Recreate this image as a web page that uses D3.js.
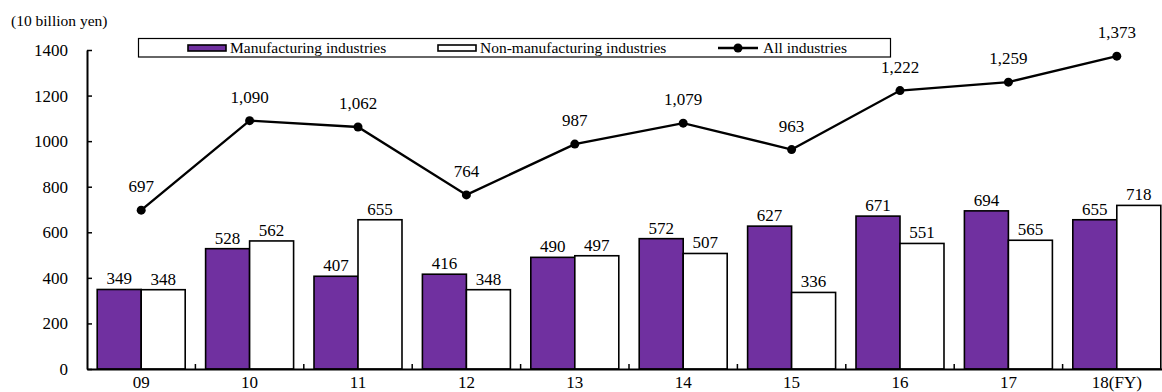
<!DOCTYPE html>
<html>
<head>
<meta charset="utf-8">
<script src="https://cdn.jsdelivr.net/npm/d3@7"></script>
<style>
  html, body { margin: 0; padding: 0; background: #fff; }
  svg { display: block; }
</style>
</head>
<body>
<svg id="chart" width="1162" height="392"></svg>
<script>
// Fiscal years on the category axis
const categories = ["09", "10", "11", "12", "13", "14", "15", "16", "17", "18(FY)"];
// Ordinary profits by sector (10 billion yen)
const manufacturing = [349, 528, 407, 416, 490, 572, 627, 671, 694, 655];
const nonManufacturing = [348, 562, 655, 348, 497, 507, 336, 551, 565, 718];
const allIndustries = [697, 1090, 1062, 764, 987, 1079, 963, 1222, 1259, 1373];
const yTicks = [0, 200, 400, 600, 800, 1000, 1200, 1400];
const seriesNames = ["Manufacturing industries", "Non-manufacturing industries", "All industries"];
const unitLabel = "(10 billion yen)";

const PURPLE = "#7030A0";
const NUM_FONT = 17;
const LEGEND_FONT = 15.5;
const SERIF = "Liberation Serif";

const svg = d3.select("#chart");

const plotLeft = 87, plotRight = 1171, plotTop = 50, plotBottom = 369;

const x = d3.scaleBand().domain(categories).range([plotLeft, plotRight]).paddingInner(0).paddingOuter(0);
const sub = d3.scaleBand().domain(["m", "n"]).range([0, x.bandwidth()]).paddingInner(0).paddingOuter(0.232);
const y = d3.scaleLinear().domain([0, 1400]).range([plotBottom, plotTop]);

const fmt = d3.format(",");

// Unit label
svg.append("text")
  .attr("x", 11).attr("y", 26)
  .style("font-size", "15.5px")
  .text(unitLabel);

// Bars
const groups = svg.append("g").selectAll("g")
  .data(categories)
  .join("g")
  .attr("transform", d => `translate(${x(d)},0)`);

groups.append("rect")
  .attr("x", sub("m"))
  .attr("y", (d, i) => y(manufacturing[i]))
  .attr("width", sub.bandwidth())
  .attr("height", (d, i) => y(0) - y(manufacturing[i]))
  .attr("fill", PURPLE)
  .attr("stroke", "#000")
  .attr("stroke-width", 1.6);

groups.append("rect")
  .attr("x", sub("n"))
  .attr("y", (d, i) => y(nonManufacturing[i]))
  .attr("width", sub.bandwidth())
  .attr("height", (d, i) => y(0) - y(nonManufacturing[i]))
  .attr("fill", "#fff")
  .attr("stroke", "#000")
  .attr("stroke-width", 1.6);

groups.append("text")
  .attr("x", sub("m") + sub.bandwidth() / 2)
  .attr("y", (d, i) => y(manufacturing[i]) - 5)
  .attr("text-anchor", "middle")
  .style("font-size", NUM_FONT + "px")
  .text((d, i) => fmt(manufacturing[i]));

groups.append("text")
  .attr("x", sub("n") + sub.bandwidth() / 2)
  .attr("y", (d, i) => y(nonManufacturing[i]) - 5)
  .attr("text-anchor", "middle")
  .style("font-size", NUM_FONT + "px")
  .text((d, i) => fmt(nonManufacturing[i]));

// Axes
const yAxis = svg.append("g")
  .attr("transform", `translate(${plotLeft},0)`)
  .call(d3.axisLeft(y).tickValues(yTicks).tickFormat(d3.format("d")).tickSizeInner(-5).tickSizeOuter(0).tickPadding(19));
yAxis.attr("font-family", null);
yAxis.select(".domain").attr("stroke", "#000").attr("stroke-width", 2);
yAxis.selectAll(".tick line").attr("stroke", "#000").attr("stroke-width", 1.5);
yAxis.selectAll(".tick text").style("font-size", NUM_FONT + "px");

const xAxis = svg.append("g")
  .attr("transform", `translate(0,${plotBottom})`)
  .call(d3.axisBottom(x).tickSize(0).tickPadding(7));
xAxis.attr("font-family", null);
xAxis.select(".domain").attr("stroke", "#000").attr("stroke-width", 2);
xAxis.selectAll(".tick text").style("font-size", NUM_FONT + "px");

// Category boundary ticks pointing into the plot
svg.append("g").selectAll("line")
  .data(categories.slice(1))
  .join("line")
  .attr("x1", d => x(d)).attr("x2", d => x(d))
  .attr("y1", plotBottom).attr("y2", plotBottom - 5)
  .attr("stroke", "#000").attr("stroke-width", 1.5);

// All-industries line
const cx = d => x(d) + x.bandwidth() / 2;
svg.append("path")
  .datum(categories)
  .attr("fill", "none")
  .attr("stroke", "#000")
  .attr("stroke-width", 2.4)
  .attr("d", d3.line().x(d => cx(d)).y((d, i) => y(allIndustries[i])));

svg.append("g").selectAll("circle")
  .data(categories)
  .join("circle")
  .attr("cx", d => cx(d))
  .attr("cy", (d, i) => y(allIndustries[i]))
  .attr("r", 4.5)
  .attr("fill", "#000");

svg.append("g").selectAll("text")
  .data(categories)
  .join("text")
  .attr("x", d => cx(d))
  .attr("y", (d, i) => y(allIndustries[i]) - 18)
  .attr("text-anchor", "middle")
  .style("font-size", NUM_FONT + "px")
  .text((d, i) => fmt(allIndustries[i]));

// Legend
const lg = svg.append("g");
lg.append("rect")
  .attr("x", 138.5).attr("y", 38.5).attr("width", 752).attr("height", 18.5)
  .attr("fill", "#fff").attr("stroke", "#000").attr("stroke-width", 1.2);

lg.append("rect").attr("x", 188).attr("y", 45).attr("width", 38).attr("height", 6)
  .attr("fill", PURPLE).attr("stroke", "#000").attr("stroke-width", 1.6);
lg.append("text").attr("x", 230).attr("y", 53).style("font-size", LEGEND_FONT + "px").text(seriesNames[0]);

lg.append("rect").attr("x", 438).attr("y", 45).attr("width", 38).attr("height", 6)
  .attr("fill", "#fff").attr("stroke", "#000").attr("stroke-width", 1.6);
lg.append("text").attr("x", 480).attr("y", 53).style("font-size", LEGEND_FONT + "px").text(seriesNames[1]);

lg.append("line").attr("x1", 718).attr("x2", 758).attr("y1", 48).attr("y2", 48)
  .attr("stroke", "#000").attr("stroke-width", 2.4);
lg.append("circle").attr("cx", 738).attr("cy", 48).attr("r", 4.5).attr("fill", "#000");
lg.append("text").attr("x", 763).attr("y", 53).style("font-size", LEGEND_FONT + "px").text(seriesNames[2]);

// Serif face for every label
svg.selectAll("text").style("font-family", SERIF).attr("fill", "#000");
</script>
</body>
</html>
